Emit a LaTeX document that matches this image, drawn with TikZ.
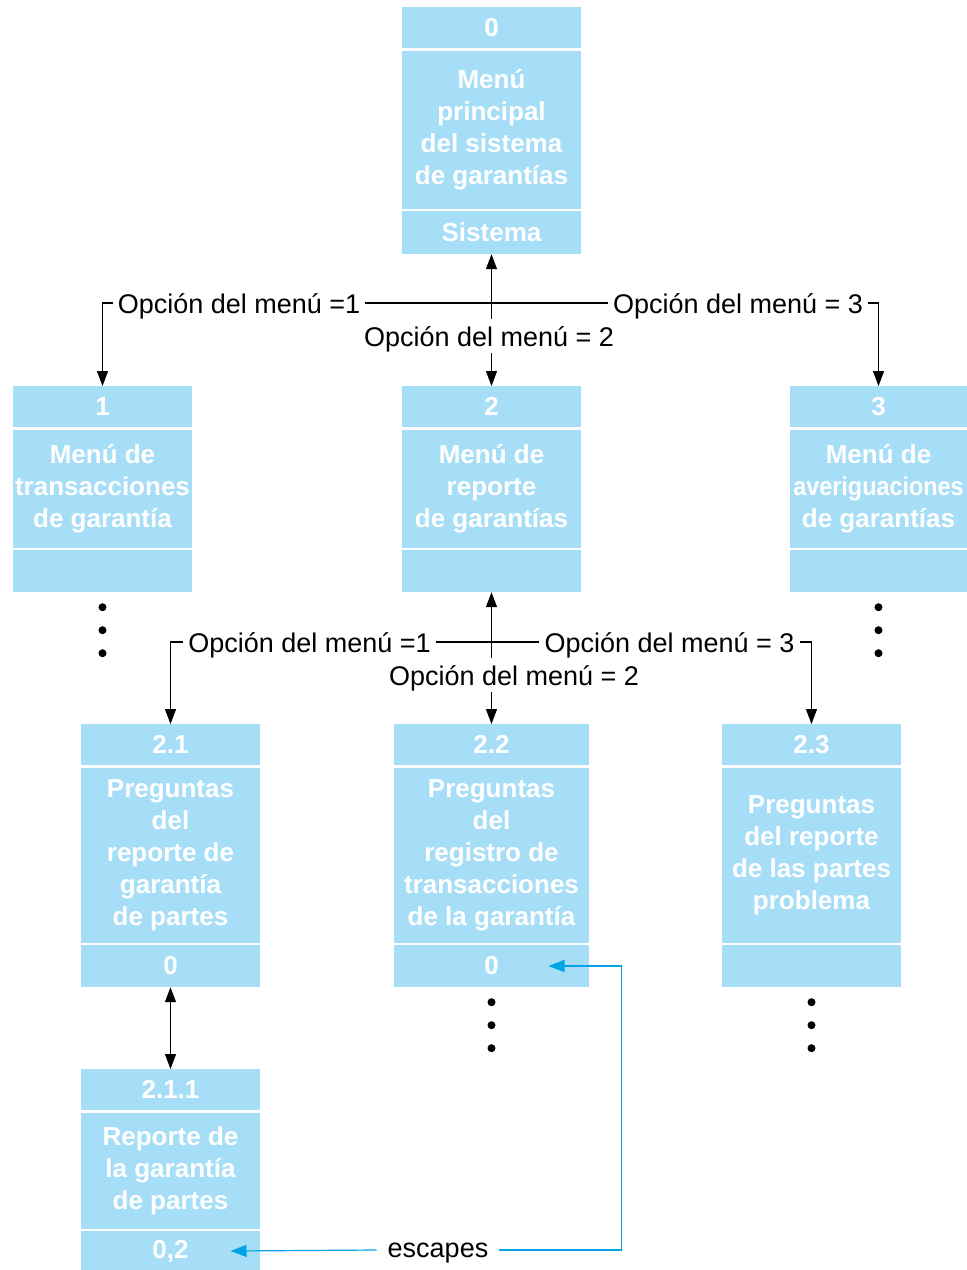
\documentclass[tikz,border=0pt]{standalone}
\usepackage{fontspec}
\setmainfont{Liberation Sans}
\usepackage{graphicx}
\usetikzlibrary{arrows.meta,positioning}
\definecolor{MenuBlue}{HTML}{A7DEF7}
\definecolor{EscBlue}{HTML}{00A4E4}

\begin{document}
\begin{tikzpicture}[
  x=1pt,y=-1pt,
  part/.style={fill=MenuBlue,text=white,font=\fontsize{26}{32}\selectfont\bfseries,inner sep=0pt,align=center,minimum width=179pt},
  hdr/.style={part,anchor=north,minimum height=41pt},
  lbl/.style={font=\fontsize{27}{32}\selectfont,text height=20pt,text depth=0pt,inner xsep=5pt,inner ysep=7pt},
  esclbl/.style={font=\fontsize{27}{32}\selectfont,text height=14pt,text depth=0pt,inner xsep=11pt},
  arr/.style={-{Triangle[length=15pt,width=11pt]},line width=1.2pt},
  arr2/.style={{Triangle[length=15pt,width=11pt]}-{Triangle[length=15pt,width=11pt]},line width=1.2pt},
  escarr/.style={-{Triangle[length=16pt,width=12pt]},line width=1.2pt,draw=EscBlue}
]
  \useasboundingbox (0,0) rectangle (967,1270);

  % menu principal
  \node[hdr] (m0h) at (491.5,7) {0};
  \node[part,minimum height=158pt,below=2pt of m0h] (m0b) {Menú\\principal\\del sistema\\de garantías};
  \node[part,minimum height=43pt,below=2pt of m0b] (m0f) {Sistema};

  % nivel 1
  \node[hdr] (m1h) at (102.5,386) {1};
  \node[part,minimum height=118pt,below=2pt of m1h] (m1b) {Menú de\\transacciones\\de garantía};
  \node[part,minimum height=42pt,below=2pt of m1b] (m1f) {};
  \node[hdr] (m2h) at (491.5,386) {2};
  \node[part,minimum height=118pt,below=2pt of m2h] (m2b) {Menú de\\reporte\\de garantías};
  \node[part,minimum height=42pt,below=2pt of m2b] (m2f) {};
  \node[hdr,minimum width=177pt] (m3h) at (878.5,386) {3};
  \node[part,minimum width=177pt,minimum height=118pt,below=2pt of m3h] (m3b) {Menú de\\\scalebox{0.9}[1]{averiguaciones}\\de garantías};
  \node[part,minimum width=177pt,minimum height=42pt,below=2pt of m3b] (m3f) {};

  % nivel 2
  \node[hdr] (m21h) at (170.5,724) {2.1};
  \node[part,minimum height=175pt,below=2pt of m21h] (m21b) {Preguntas\\del\\reporte de\\garantía\\de partes};
  \node[part,minimum height=42pt,below=2pt of m21b] (m21f) {0};
  \node[hdr,minimum width=195pt] (m22h) at (491.5,724) {2.2};
  \node[part,minimum width=195pt,minimum height=175pt,below=2pt of m22h] (m22b) {Preguntas\\del\\registro de\\transacciones\\de la garantía};
  \node[part,minimum width=195pt,minimum height=42pt,below=2pt of m22b] (m22f) {0};
  \node[hdr] (m23h) at (811.5,724) {2.3};
  \node[part,minimum height=175pt,below=2pt of m23h] (m23b) {Preguntas\\del reporte\\de las partes\\problema};
  \node[part,minimum height=42pt,below=2pt of m23b] (m23f) {};

  % nivel 3
  \node[hdr] (m211h) at (170.5,1069) {2.1.1};
  \node[part,minimum height=116pt,below=2pt of m211h] (m211b) {Reporte de\\la garantía\\de partes};
  \node[part,minimum height=40pt,below=2pt of m211b] (m211f) {0,2};

  % opciones del menu principal
  \node[lbl] (a1) at (239,303) {Opción del menú =1};
  \node[lbl] (a3) at (738,303) {Opción del menú = 3};
  \node[lbl] (a2) at (489,336) {Opción del menú = 2};
  \draw[line width=1.2pt] (a1.east) -- (a3.west);
  \draw[arr] (a1.west) -| (m1h.north);
  \draw[arr] (a3.east) -| (m3h.north);
  \draw[arr] (m0f.south |- a2.north) -- (m0f.south);
  \draw[arr] (m2h.north |- a2.south) -- (m2h.north);

  % opciones del menu de reporte
  \node[lbl] (b1) at (309.5,642) {Opción del menú =1};
  \node[lbl] (b3) at (669.5,642) {Opción del menú = 3};
  \node[lbl] (b2) at (514,675) {Opción del menú = 2};
  \draw[line width=1.2pt] (b1.east) -- (b3.west);
  \draw[arr] (b1.west) -| (m21h.north);
  \draw[arr] (b3.east) -| (m23h.north);
  \draw[arr] (m2f.south |- b2.north) -- (m2f.south);
  \draw[arr] (m22h.north |- b2.south) -- (m22h.north);

  \draw[arr2] (m21f.south) -- (m211h.north);

  % puntos suspensivos
  \foreach \b in {m1f,m3f,m22f,m23f}
    \foreach \d in {15,38,61}
      \fill ([yshift=-\d pt]\b.south) circle (4pt);

  % escapes
  \node[esclbl] (esc) at (438,1250) {escapes};
  \draw[escarr] (esc.east) -| ([xshift=32pt]m22f.east) -- ([xshift=57pt]m22f.center);
  \draw[escarr] (esc.west) -- ([xshift=60pt]m211f.center);
\end{tikzpicture}
\end{document}
